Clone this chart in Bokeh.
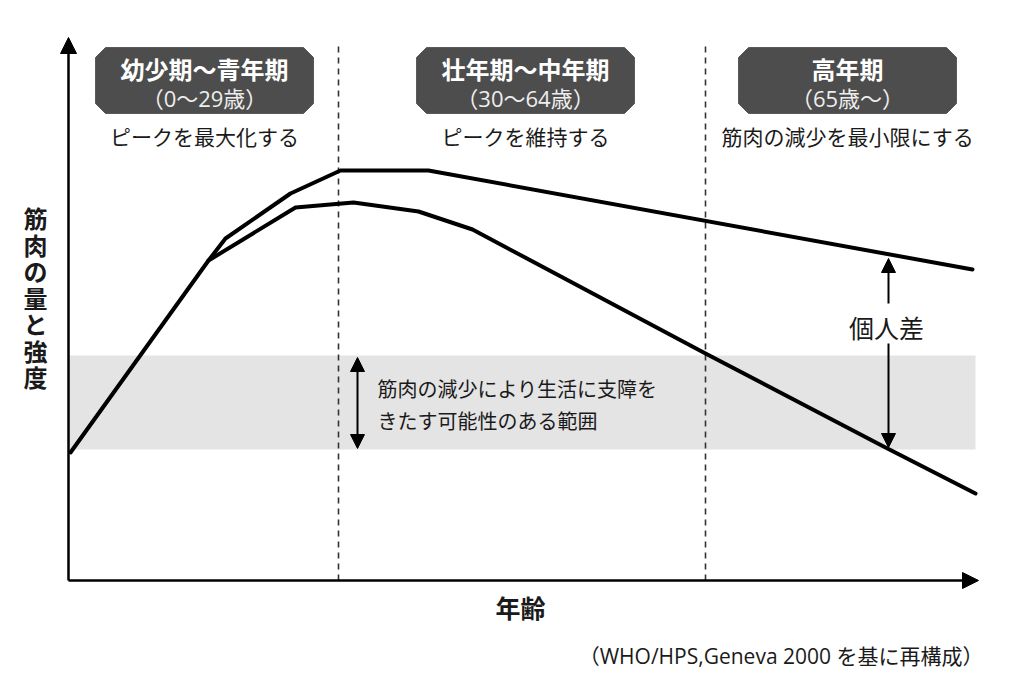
from bokeh.plotting import figure
from bokeh.models import Range1d, Arrow, NormalHead, ColumnDataSource
from bokeh.core.properties import value
from bokeh.embed import file_html
from bokeh.resources import INLINE

# ---- data (schematic units: age position / muscle strength) ----
upper_age = [2, 140, 157, 222, 272, 360, 904]
upper_strength = [128, 320, 342, 387, 410, 410, 311]
lower_age = [140, 227, 285, 350, 404, 637, 817, 907]
lower_strength = [320, 373, 378, 369, 351, 227, 133, 87]
stage_bounds = [270, 637]
stage_centers = [136, 457, 779]
stage_titles = ["幼少期～青年期", "壮年期～中年期", "高年期"]
stage_ages = ["（0～29歳）", "（30～64歳）", "（65歳～）"]
stage_goals = ["ピークを最大化する", "ピークを維持する", "筋肉の減少を最小限にする"]
band_low, band_high = 131, 225
band_end = 907
axis_x_end, axis_y_end = 910, 543
y_label = "筋肉の量と強度"
x_label = "年齢"
source_note = "（WHO/HPS,Geneva 2000 を基に再構成）"
band_note = ["筋肉の減少により生活に支障を", "きたす可能性のある範囲"]
individual_label = "個人差"
individual_x = 820

FONT = value("Noto Sans CJK JP")
MIXED = value("Open Sans, Noto Sans CJK JP")
INK = "#1a1a1a"

p = figure(width=1024, height=695, x_range=Range1d(-68, 956), y_range=Range1d(-115, 580),
           output_backend="svg", toolbar_location=None, min_border=0,
           x_axis_type=None, y_axis_type=None)
p.grid.visible = False
p.outline_line_color = None
p.background_fill_color = "white"
p.border_fill_color = "white"

# grey band
p.quad(left=0, right=band_end, bottom=band_low, top=band_high,
       fill_color="#e4e4e4", line_color=None)

# stage dividers
p.segment(x0=stage_bounds, y0=[0, 0], x1=stage_bounds, y1=[535, 535],
          line_color="#333333", line_width=1.6, line_dash="6 5")

# curves
p.line(upper_age, upper_strength, line_color="black", line_width=4, line_join="round", line_cap="round")
p.line(lower_age, lower_strength, line_color="black", line_width=4, line_join="round", line_cap="round")

# axes with arrow heads
p.add_layout(Arrow(end=NormalHead(size=16, fill_color="black", line_color="black", line_width=1),
                   x_start=0, y_start=0, x_end=axis_x_end, y_end=0,
                   line_width=2.5, line_color="black"))
p.add_layout(Arrow(end=NormalHead(size=16, fill_color="black", line_color="black", line_width=1),
                   x_start=0, y_start=0, x_end=0, y_end=axis_y_end,
                   line_width=2.5, line_color="black"))

# stage boxes (chamfered)
hw, top, bot, ch = 109, 533, 467, 10
xs, ys = [], []
for c in stage_centers:
    xs.append([c - hw + ch, c + hw - ch, c + hw, c + hw, c + hw - ch, c - hw + ch, c - hw, c - hw])
    ys.append([top, top, top - ch, bot + ch, bot, bot, bot + ch, top - ch])
p.patches(xs, ys, fill_color="#4d4d4d", line_color="#5a5a5a", line_width=1)

p.text(x=stage_centers, y=[512] * 3, text=stage_titles, text_font=FONT, text_font_size="24px",
       text_font_style="bold", text_color="white", text_align="center", text_baseline="middle")
p.text(x=stage_centers, y=[483] * 3, text=stage_ages, text_font=MIXED, text_font_size="22px",
       text_color="#eeeeee", text_align="center", text_baseline="middle")
p.text(x=stage_centers, y=[445] * 3, text=stage_goals, text_font=FONT, text_font_size="21px",
       text_color=INK, text_align="center", text_baseline="middle")

# y label (vertical, stacked characters)
chars = list(y_label)
ysrc = ColumnDataSource(dict(x=[-33] * len(chars), y=[363 - i * 26.5 for i in range(len(chars))], t=chars))
p.text(x="x", y="y", text="t", source=ysrc, text_font=FONT, text_font_size="24px",
       text_font_style="bold", text_color=INK, text_align="center", text_baseline="middle")

# x label and source
p.text(x=[452], y=[-26], text=[x_label], text_font=FONT, text_font_size="25px",
       text_font_style="bold", text_color=INK, text_align="center", text_baseline="middle")
p.text(x=[915], y=[-75], text=[source_note], text_font=MIXED, text_font_size="21px",
       text_color=INK, text_align="right", text_baseline="middle")

# band note with double arrow
p.text(x=[309, 309], y=[192, 160], text=band_note, text_font=FONT, text_font_size="20px",
       text_color=INK, text_align="left", text_baseline="middle")
p.add_layout(Arrow(start=NormalHead(size=14, fill_color="black", line_color="black", line_width=1),
                   end=NormalHead(size=14, fill_color="black", line_color="black", line_width=1),
                   x_start=289, y_start=132, x_end=289, y_end=223, line_width=2, line_color="black"))

# individual difference
p.text(x=[individual_x - 2], y=[254], text=[individual_label], text_font=FONT, text_font_size="25px",
       text_color=INK, text_align="center", text_baseline="middle")
p.add_layout(Arrow(end=NormalHead(size=14, fill_color="black", line_color="black", line_width=1),
                   x_start=individual_x, y_start=277, x_end=individual_x, y_end=322,
                   line_width=2, line_color="black"))
p.add_layout(Arrow(end=NormalHead(size=14, fill_color="black", line_color="black", line_width=1),
                   x_start=individual_x, y_start=237, x_end=individual_x, y_end=133,
                   line_width=2, line_color="black"))

open("out.html", "w").write(file_html(p, INLINE))
